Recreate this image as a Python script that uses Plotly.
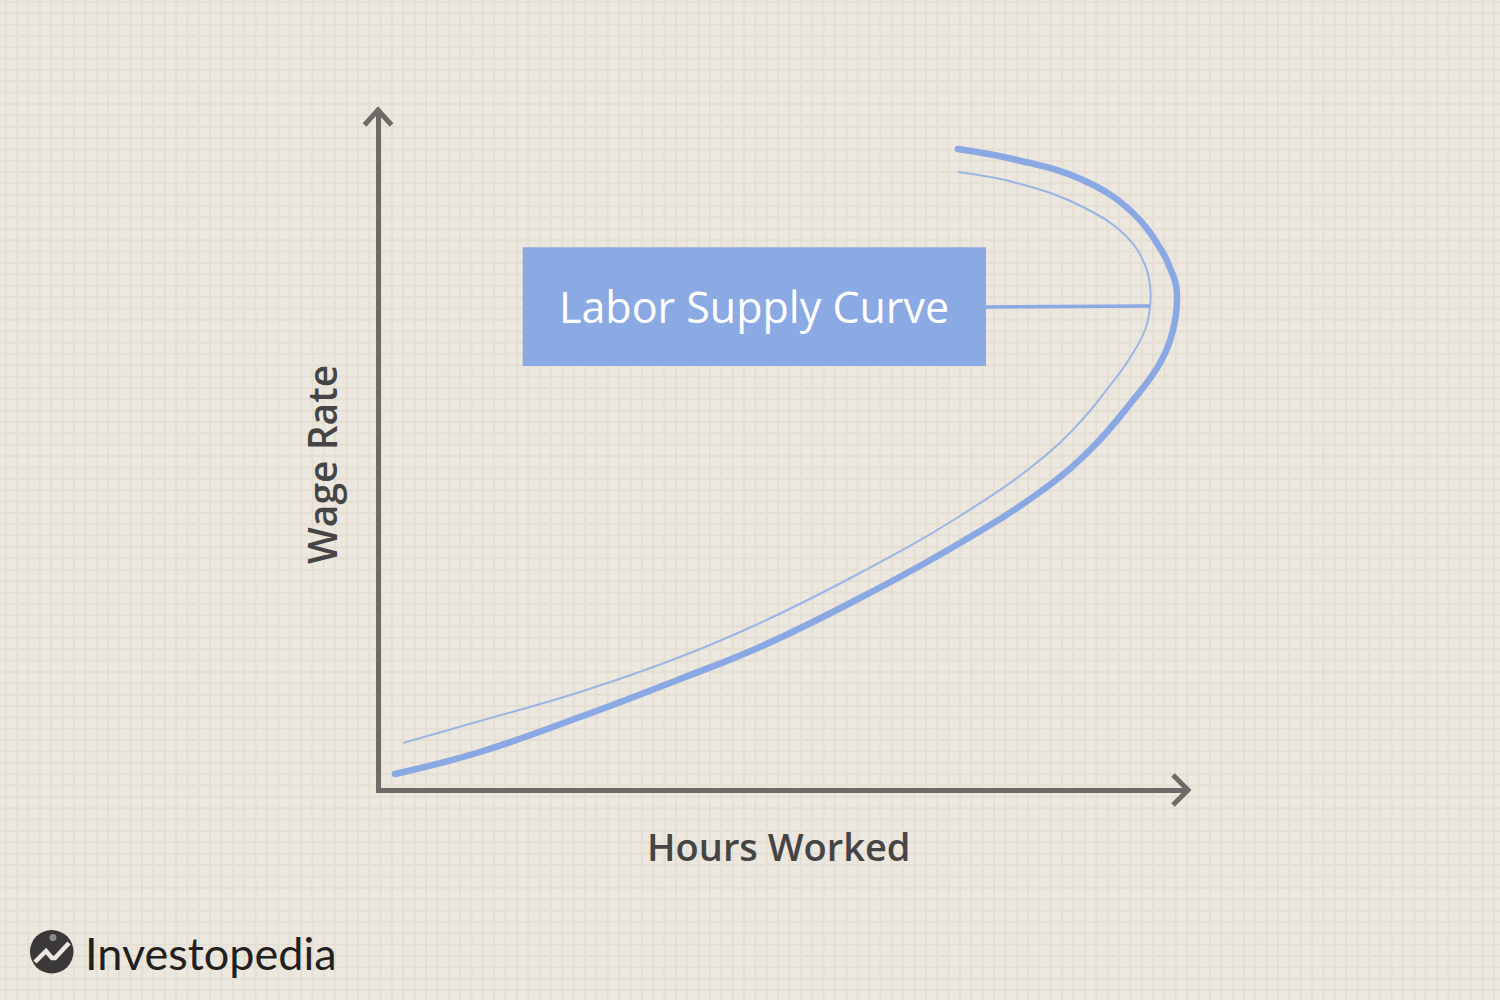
import plotly.graph_objects as go

# ---------------- data (hours worked vs wage rate, arbitrary units) ----------------
supply_hours = [1.7, 10.2, 20.2, 30.2, 38.2, 48.2, 58.2, 66.2, 71.2, 75.2, 78.2,
                79.5, 79.9, 79.8, 79.2, 78.5, 75.5, 70.5, 63.9, 58.0]
supply_wage = [1.6, 3.8, 7.3, 11.1, 14.3, 19.2, 24.7, 29.8, 34.0, 38.6, 42.7,
               46.0, 49.0, 50.5, 52.2, 53.7, 57.7, 61.0, 63.0, 64.1]

inner_hours = [2.5, 10.2, 20.2, 30.2, 38.2, 48.2, 58.2, 66.2, 70.4, 72.7, 75.0,
               76.7, 77.2, 77.2, 76.7, 74.9, 70.5, 63.9, 58.0]
inner_wage = [4.7, 6.9, 9.8, 13.3, 16.7, 21.7, 27.4, 33.0, 37.0, 39.8, 42.9,
              46.0, 48.3, 50.5, 52.5, 55.3, 58.3, 60.7, 61.8]

connector_hours = [60.8, 77.2]
connector_wage = [48.3, 48.4]

label_text = "Labor Supply Curve"
x_title = "Hours Worked"
y_title = "Wage Rate"
brand = "Investopedia"

# ---------------- layout constants (pixels) ----------------
W, H = 1500, 1000
AX_X, AX_Y = 378, 790          # axis line centres
LW = 5
PX_PER_X, PX_PER_Y = 10.0, 10.0
DOM_L, DOM_R = AX_X + LW / 2, 1188
DOM_B, DOM_T = AX_Y - LW / 2, 111

BG = "#ECE7DF"
GRID = "#E4DED3"
AXIS = "#6E6A67"
BLUE = "#8AA9E4"
BLUE_THIN = "#9CB5E4"
TEXT = "#454545"


def px(x):
    return x / W


def py(y):
    return 1 - y / H


fig = go.Figure()

fig.add_trace(go.Scatter(x=inner_hours, y=inner_wage, mode="lines",
                         line=dict(color=BLUE_THIN, width=2, shape="spline", smoothing=1.2),
                         hoverinfo="skip", showlegend=False))
fig.add_trace(go.Scatter(x=supply_hours, y=supply_wage, mode="lines",
                         line=dict(color=BLUE, width=6.5, shape="spline", smoothing=1.2),
                         hoverinfo="skip", showlegend=False))
fig.add_trace(go.Scatter(x=[supply_hours[0], supply_hours[-1]],
                         y=[supply_wage[0], supply_wage[-1]], mode="markers",
                         marker=dict(color=BLUE, size=6.5, line=dict(width=0)),
                         hoverinfo="skip", showlegend=False))
fig.add_trace(go.Scatter(x=connector_hours, y=connector_wage, mode="lines",
                         line=dict(color=BLUE, width=3.5),
                         hoverinfo="skip", showlegend=False))

# background grid as one path
parts = []
step = 11.36
x = 5.7
while x < W:
    parts.append(f"M{px(x):.5f},0 V1")
    x += step
y = 1.7
while y < H:
    parts.append(f"M0,{py(y):.5f} H1")
    y += step
shapes = [dict(type="path", xref="paper", yref="paper", path=" ".join(parts),
               line=dict(color=GRID, width=2), layer="below")]

# label box
box_x0 = (522.7 - AX_X) / PX_PER_X
box_x1 = (986 - AX_X) / PX_PER_X
box_y0 = (AX_Y - 366) / PX_PER_Y
box_y1 = (AX_Y - 247.3) / PX_PER_Y
shapes.append(dict(type="rect", xref="x", yref="y", x0=box_x0, x1=box_x1,
                   y0=box_y0, y1=box_y1, fillcolor="#8BA9E3", line=dict(width=0),
                   layer="above"))

# arrowheads
shapes.append(dict(type="path", xref="paper", yref="paper",
                   path=f"M{px(364.5)},{py(125)} L{px(378)},{py(110)} L{px(391.5)},{py(125)}",
                   line=dict(color=AXIS, width=5), layer="above"))
shapes.append(dict(type="path", xref="paper", yref="paper",
                   path=f"M{px(1173)},{py(775)} L{px(1188)},{py(790)} L{px(1173)},{py(805)}",
                   line=dict(color=AXIS, width=5), layer="above"))

# logo circle + mark
shapes.append(dict(type="circle", xref="paper", yref="paper",
                   x0=px(30), x1=px(73.5), y0=py(973.5), y1=py(930),
                   fillcolor="#3A3839", line=dict(width=0), layer="above"))
shapes.append(dict(type="path", xref="paper", yref="paper",
                   path=(f"M{px(35)},{py(962)} L{px(46)},{py(951)} L{px(52)},{py(958)} "
                         f"L{px(55)},{py(958)} L{px(69)},{py(943)}"),
                   line=dict(color=BG, width=4.5), layer="above"))
shapes.append(dict(type="circle", xref="paper", yref="paper",
                   x0=px(49.5), x1=px(56.5), y0=py(941), y1=py(934),
                   fillcolor="#8C8A8A", line=dict(width=0), layer="above"))

annotations = [
    dict(x=(box_x0 + box_x1) / 2, y=(box_y0 + box_y1) / 2, xref="x", yref="y",
         text=label_text, showarrow=False,
         font=dict(family="Open Sans", size=43, color="white", weight=500),
         xanchor="center", yanchor="middle"),
    dict(x=px(779), y=py(846), xref="paper", yref="paper", text=x_title, showarrow=False,
         font=dict(family="Open Sans", size=38, color=TEXT, weight=600),
         xanchor="center", yanchor="middle"),
    dict(x=px(321), y=py(465), xref="paper", yref="paper", text=y_title, showarrow=False,
         textangle=-90,
         font=dict(family="Open Sans", size=39, color=TEXT, weight=600),
         xanchor="center", yanchor="middle"),
    dict(x=px(83), y=py(953), xref="paper", yref="paper", text=brand, showarrow=False,
         font=dict(family="Lato", size=45, color="#231F20"),
         xanchor="left", yanchor="middle"),
]

fig.update_layout(
    width=W, height=H,
    margin=dict(l=0, r=0, t=0, b=0),
    paper_bgcolor=BG, plot_bgcolor="rgba(0,0,0,0)",
    shapes=shapes, annotations=annotations, showlegend=False,
    xaxis=dict(domain=[px(DOM_L), px(DOM_R)],
               range=[(DOM_L - AX_X) / PX_PER_X, (DOM_R - AX_X) / PX_PER_X],
               showline=True, linewidth=LW, linecolor=AXIS, showgrid=False,
               zeroline=False, showticklabels=False, ticks=""),
    yaxis=dict(domain=[py(DOM_B), py(DOM_T)],
               range=[(AX_Y - DOM_B) / PX_PER_Y, (AX_Y - DOM_T) / PX_PER_Y],
               showline=True, linewidth=LW, linecolor=AXIS, showgrid=False,
               zeroline=False, showticklabels=False, ticks=""),
)

fig.write_html("out.html", config={"displayModeBar": False, "staticPlot": True},
               post_script="document.body.style.margin='0';document.body.style.overflow='hidden';")
